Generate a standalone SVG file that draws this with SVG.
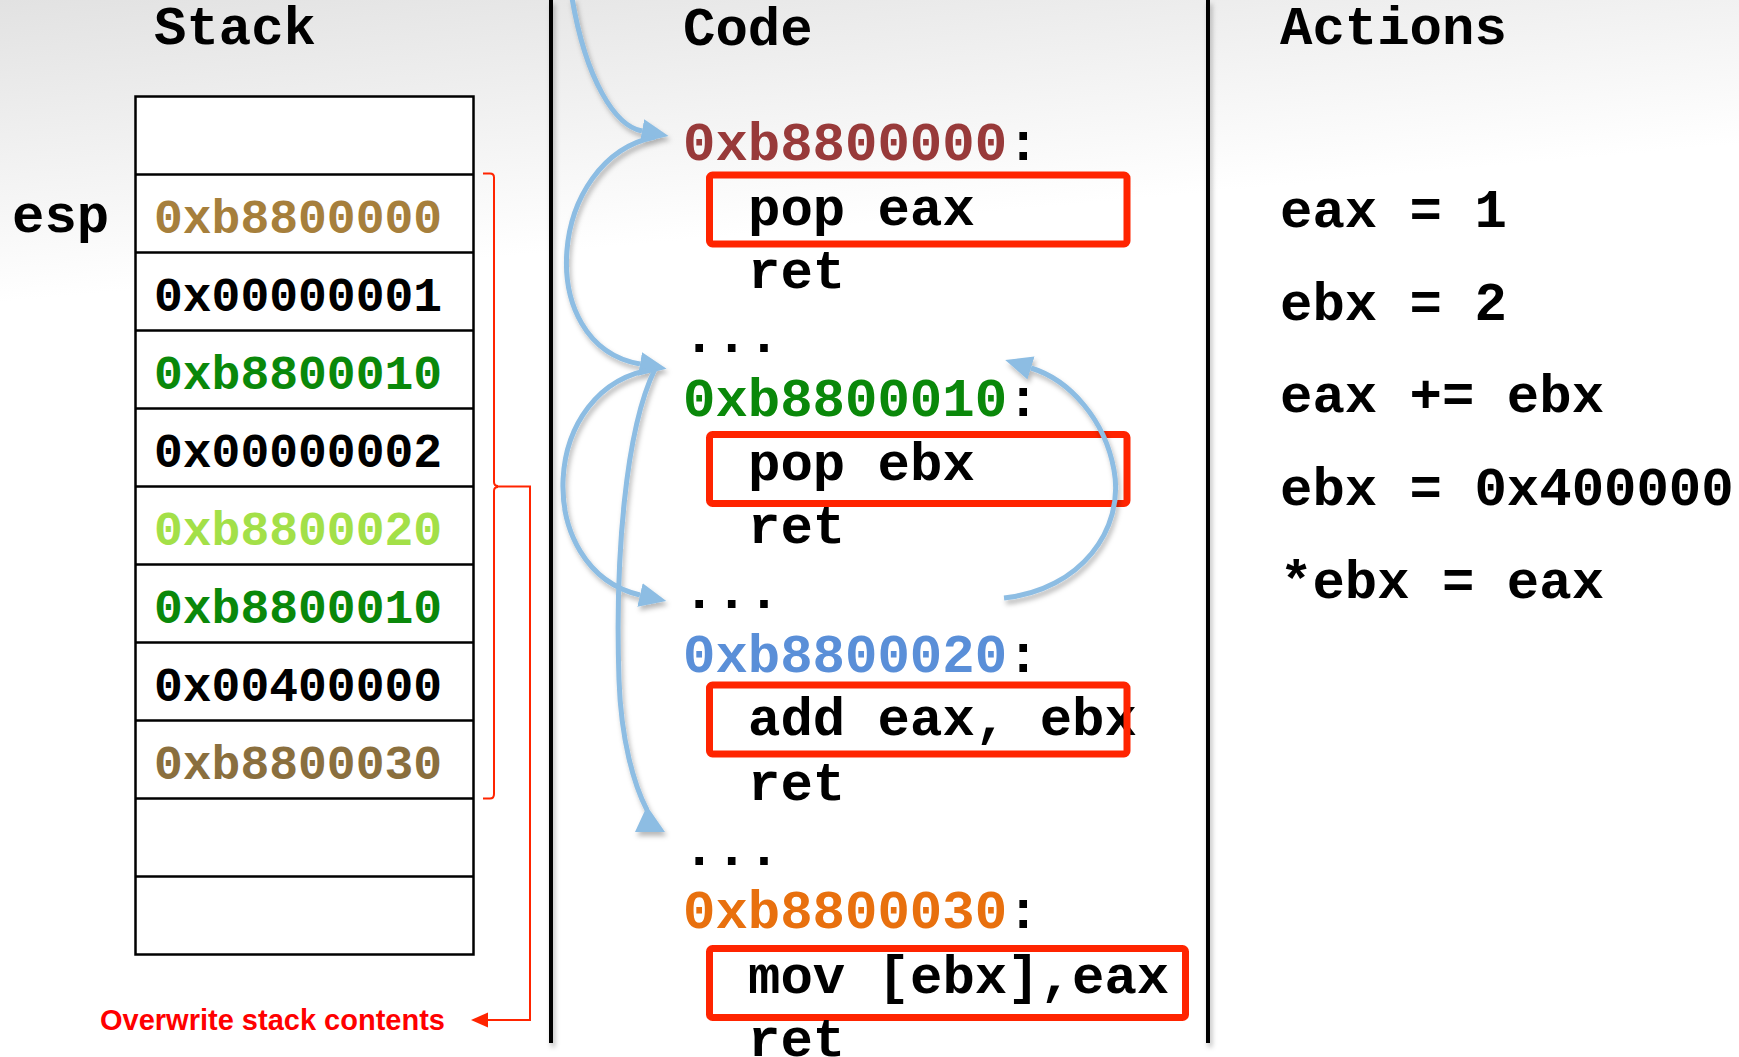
<svg xmlns="http://www.w3.org/2000/svg" width="1739" height="1057" viewBox="0 0 1739 1057">
<defs>
<linearGradient id="bg" x1="0" y1="0" x2="0.15" y2="1">
<stop offset="0" stop-color="#e2e2e2"/>
<stop offset="0.28" stop-color="#ffffff"/>
<stop offset="1" stop-color="#ffffff"/>
</linearGradient>
<filter id="sh" x="-20%" y="-20%" width="140%" height="140%">
<feDropShadow dx="2" dy="4" stdDeviation="2.5" flood-color="#000" flood-opacity="0.28"/>
</filter>
<marker id="ah" markerUnits="userSpaceOnUse" markerWidth="32" markerHeight="30" viewBox="0 -15 32 30" refX="0" refY="0" orient="auto">
<path d="M0,-12 L27,0 L0,12 Z" fill="#8dbde3"/>
</marker>
<style>
.m{font-family:"Liberation Mono","Courier New",monospace;font-weight:bold;}
.h{font-size:54px;fill:#000}
.sv{font-size:48px}
.c{font-size:54px;fill:#000}
.row{fill:none;stroke:#000;stroke-width:2.5}
.rb{fill:none;stroke:#ff2400;stroke-width:7}
.rl{fill:none;stroke:#ff2400;stroke-width:2}
.sep{stroke:#000;stroke-width:4}
.arr{fill:none;stroke:#8dbde3;stroke-width:5}
</style>
</defs>
<rect x="0" y="0" width="1739" height="1057" fill="url(#bg)"/>

<g id="separators" filter="url(#sh)">
<line class="sep" x1="551" y1="0" x2="551" y2="1043"/>
<line class="sep" x1="1208" y1="0" x2="1208" y2="1043"/>
</g>

<g id="headers" class="m h">
<text x="154" y="44">Stack</text>
<text x="683" y="45">Code</text>
<text x="1280" y="44">Actions</text>
</g>

<g id="esp"><text class="m h" x="12" y="232">esp</text></g>

<g id="stack">
<rect x="135.5" y="96.5" width="338" height="858" fill="#fff" stroke="#000" stroke-width="2.5"/>
<path class="row" d="M135.5,174.5H473.5M135.5,252.5H473.5M135.5,330.5H473.5M135.5,408.5H473.5M135.5,486.5H473.5M135.5,564.5H473.5M135.5,642.5H473.5M135.5,720.5H473.5M135.5,798.5H473.5M135.5,876.5H473.5"/>
<g class="m sv">
<text x="154" y="233" fill="#a67f3c">0xb8800000</text>
<text x="154" y="311" fill="#000">0x00000001</text>
<text x="154" y="389" fill="#0a880a">0xb8800010</text>
<text x="154" y="467" fill="#000">0x00000002</text>
<text x="154" y="545" fill="#a3e048">0xb8800020</text>
<text x="154" y="623" fill="#0a880a">0xb8800010</text>
<text x="154" y="701" fill="#000">0x00400000</text>
<text x="154" y="779" fill="#8a6f3e">0xb8800030</text>
</g>
</g>

<g id="overwrite-brackets">
<path class="rl" d="M483,173.5H490Q494,173.5 494,177.5V482Q494,486 498,486"/>
<path class="rl" d="M498,487Q494,487 494,491V794Q494,798.5 490,798.5H483"/>
<path class="rl" d="M496,486.5H530V1020H486"/>
<polygon points="471,1020 488,1012.5 488,1027.5" fill="#ff2400"/>
<text x="100" y="1030" font-family="'Liberation Sans',Arial,sans-serif" font-weight="bold" font-size="29" fill="#ff0000">Overwrite stack contents</text>
</g>

<g id="code-b8800000" class="m c">
<text x="683" y="160" fill="#983a3a">0xb8800000<tspan fill="#000">:</tspan></text>
<text x="748" y="225">pop eax</text>
<rect class="rb" x="709.5" y="175" width="417.5" height="69" rx="3"/>
<text x="748" y="288">ret</text>
<text x="683" y="352">...</text>
</g>

<g id="code-b8800010" class="m c">
<text x="683" y="416" fill="#0a880a">0xb8800010<tspan fill="#000">:</tspan></text>
<text x="748" y="480">pop ebx</text>
<rect class="rb" x="709.5" y="434.5" width="417.5" height="69" rx="3"/>
<text x="748" y="543">ret</text>
<text x="683" y="608">...</text>
</g>

<g id="code-b8800020" class="m c">
<text x="683" y="672" fill="#5a8fd8">0xb8800020<tspan fill="#000">:</tspan></text>
<text x="748" y="735">add eax, ebx</text>
<rect class="rb" x="709.5" y="685" width="417.5" height="69" rx="3"/>
<text x="748" y="800">ret</text>
<text x="683" y="865">...</text>
</g>

<g id="code-b8800030" class="m c">
<text x="683" y="928" fill="#e8700e">0xb8800030<tspan fill="#000">:</tspan></text>
<text x="748" y="993">mov [ebx],eax</text>
<rect class="rb" x="709.5" y="948.5" width="476" height="69" rx="3"/>
<text x="748" y="1056">ret</text>
</g>

<g id="actions" class="m h">
<text x="1280" y="227">eax = 1</text>
<text x="1280" y="320">ebx = 2</text>
<text x="1280" y="412">eax += ebx</text>
<text x="1280" y="505">ebx = 0x400000</text>
<text x="1280" y="598">*ebx = eax</text>
</g>

<g id="connectors" filter="url(#sh)">
<path class="arr" d="M572,-2 C586,80 615,126 642,131" marker-end="url(#ah)"/>
<path class="arr" d="M655,137 C548,158 532,345 640,364" marker-end="url(#ah)"/>
<path class="arr" d="M655,369 C538,385 532,570 640,595" marker-end="url(#ah)"/>
<path class="arr" d="M655,369 C625,430 615,560 619,680 C621,740 634,785 647,810"/>
<polygon points="647,806 635,832 665,832" fill="#8dbde3"/>
<path class="arr" d="M1004,598 C1080,590 1125,530 1114,470 C1105,420 1070,380 1031,368" marker-end="url(#ah)"/>
</g>
</svg>
